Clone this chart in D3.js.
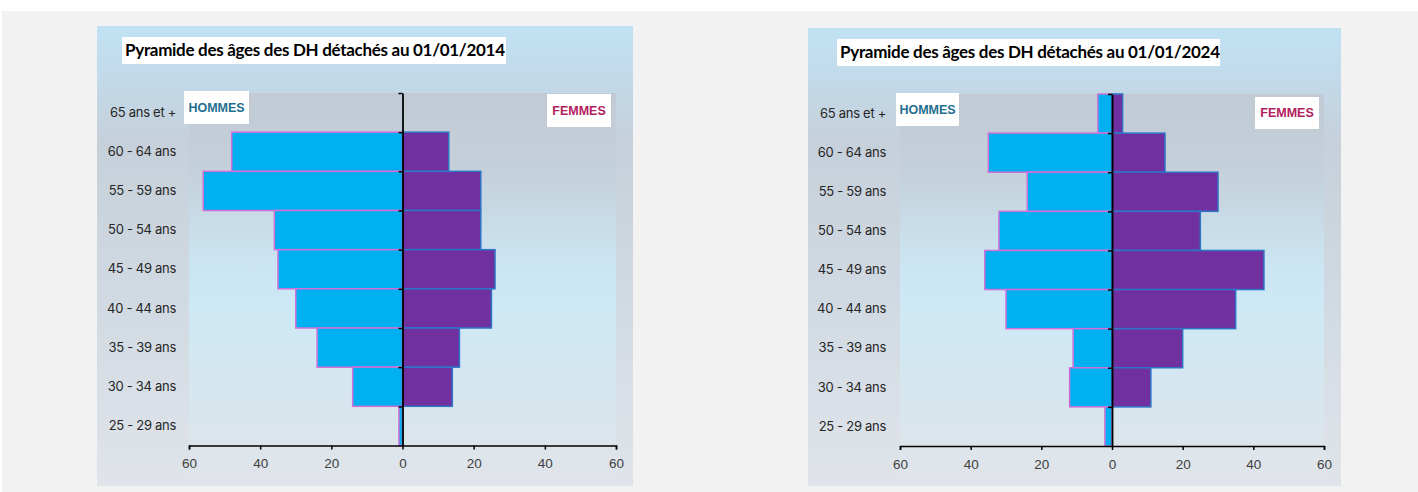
<!DOCTYPE html>
<html>
<head>
<meta charset="utf-8">
<script src="https://cdn.jsdelivr.net/npm/d3@7"></script>
<style>
  body { margin: 0; background: #ffffff; }
  svg { display: block; }
</style>
</head>
<body>
<div id="chart"></div>
<script>
// age groups, top to bottom
const ageGroups = ['65 ans et +', '60 - 64 ans', '55 - 59 ans', '50 - 54 ans', '45 - 49 ans', '40 - 44 ans', '35 - 39 ans', '30 - 34 ans', '25 - 29 ans']

// values
const hommes2014 = [0, 48, 56, 36, 35, 30, 24, 14, 1]
const femmes2014 = [0, 13, 22, 22, 26, 25, 16, 14, 0]
const hommes2024 = [4, 35, 24, 32, 36, 30, 11, 12, 2]
const femmes2024 = [3, 15, 30, 25, 43, 35, 20, 11, 0]

const xTicks = [-60, -40, -20, 0, 20, 40, 60]
const titles = ['Pyramide des âges des DH détachés au 01/01/2014', 'Pyramide des âges des DH détachés au 01/01/2024']

const W = 1418, H = 492

const svg = d3.select('#chart')
    .append('svg')
    .attr('width', W)
    .attr('height', H)

// gradients for the panel and plot area
const defs = svg.append('defs')

const panelGrad = defs.append('linearGradient')
    .attr('id', 'panelGrad')
    .attr('x1', 0).attr('y1', 0).attr('x2', 0).attr('y2', 1)
const panelStops = [[0, '#c1e2f4'], [0.12, '#c2d9e9'], [0.25, '#c6d0da'], [0.6, '#d1dae2'], [1, '#e0e4ea']]
panelStops.forEach(s => panelGrad.append('stop').attr('offset', s[0]).attr('stop-color', s[1]))

const plotGrad = defs.append('linearGradient')
    .attr('id', 'plotGrad')
    .attr('x1', 0).attr('y1', 0).attr('x2', 0).attr('y2', 1)
const plotStops = [[0, '#c1cad5'], [0.2, '#c4d0da'], [0.45, '#cbe5f2'], [0.55, '#cde9f5'], [0.8, '#d7e6ee'], [1, '#e0e4ea']]
plotStops.forEach(s => plotGrad.append('stop').attr('offset', s[0]).attr('stop-color', s[1]))

// page background
svg.append('rect')
    .attr('x', 2).attr('y', 11)
    .attr('width', W - 2).attr('height', H - 11)
    .attr('fill', '#f2f2f2')

const drawPyramid = (cfg) => {

    const g = svg.append('g')

    // outer panel
    g.append('rect')
        .attr('x', cfg.panel[0]).attr('y', cfg.panel[1])
        .attr('width', cfg.panel[2] - cfg.panel[0])
        .attr('height', cfg.panel[3] - cfg.panel[1])
        .attr('fill', 'url(#panelGrad)')

    // plot area
    g.append('rect')
        .attr('x', cfg.plot[0]).attr('y', cfg.plot[1])
        .attr('width', cfg.plot[2] - cfg.plot[0])
        .attr('height', cfg.plot[3] - cfg.plot[1])
        .attr('fill', 'url(#plotGrad)')

    const xScale = d3.scaleLinear()
        .domain([-60, 60])
        .range([cfg.plot[0], cfg.plot[2]])

    const yScale = d3.scaleBand()
        .domain(ageGroups)
        .range([cfg.plot[1], cfg.yBottom])
        .padding(0)

    // hommes bars (left side)
    g.selectAll('.bar-h')
        .data(cfg.hommes)
        .enter()
        .append('rect')
            .attr('class', 'bar-h')
            .attr('x', d => xScale(-d))
            .attr('y', (d, i) => yScale(ageGroups[i]))
            .attr('width', d => xScale(0) - xScale(-d))
            .attr('height', yScale.bandwidth())
            .attr('fill', '#00b0f0')
            .attr('stroke', d => d > 0 ? '#d070d8' : 'none')
            .attr('stroke-width', 1.5)

    // femmes bars (right side)
    g.selectAll('.bar-f')
        .data(cfg.femmes)
        .enter()
        .append('rect')
            .attr('class', 'bar-f')
            .attr('x', xScale(0))
            .attr('y', (d, i) => yScale(ageGroups[i]))
            .attr('width', d => xScale(d) - xScale(0))
            .attr('height', yScale.bandwidth())
            .attr('fill', '#7030a0')
            .attr('stroke', d => d > 0 ? '#2e75c6' : 'none')
            .attr('stroke-width', 1.5)

    // bottom axis
    const xAxis = g.append('g')
        .attr('transform', `translate(0,${cfg.yBottom})`)
        .call(d3.axisBottom(xScale)
            .tickValues(xTicks)
            .tickFormat(d => Math.abs(d))
            .tickSize(4)
            .tickSizeOuter(4)
            .tickPadding(9))
    xAxis.select('.domain').attr('stroke', '#000').attr('stroke-width', 1.5)
    xAxis.selectAll('.tick line').attr('stroke', '#000').attr('stroke-width', 1.5)
    xAxis.selectAll('text')
        .attr('fill', '#404040')
        .style('font-family', 'Liberation Sans, Arial, sans-serif')
        .style('font-size', '13.5px')

    // vertical zero axis with ticks at the band boundaries
    const boundary = d3.scaleLinear()
        .domain([0, ageGroups.length])
        .range([cfg.plot[1], cfg.yBottom])
    const zeroAxis = g.append('g')
        .attr('transform', `translate(${xScale(0)},0)`)
        .call(d3.axisLeft(boundary)
            .tickValues(d3.range(0, ageGroups.length))
            .tickFormat('')
            .tickSize(4)
            .tickSizeOuter(0))
    zeroAxis.select('.domain').attr('stroke', '#000').attr('stroke-width', 1.8)
    zeroAxis.selectAll('.tick line').attr('stroke', '#000').attr('stroke-width', 1.5)

    // category labels
    const yAxis = g.append('g')
        .attr('transform', `translate(${cfg.labelRight},0)`)
        .call(d3.axisLeft(yScale).tickSize(0).tickPadding(0))
    yAxis.select('.domain').remove()
    yAxis.selectAll('text')
        .attr('fill', '#262626')
        .style('font-family', 'Inter, sans-serif')
        .style('font-size', '13px')
        .style('letter-spacing', '-0.3px')

    // title box
    g.append('rect')
        .attr('x', cfg.titleBox[0]).attr('y', cfg.titleBox[1])
        .attr('width', cfg.titleBox[2] - cfg.titleBox[0])
        .attr('height', cfg.titleBox[3] - cfg.titleBox[1])
        .attr('fill', '#ffffff')
    g.append('text')
        .attr('x', cfg.titleBox[0] + 3)
        .attr('y', (cfg.titleBox[1] + cfg.titleBox[3]) / 2)
        .attr('dy', '0.35em')
        .attr('fill', '#000')
        .style('font-family', 'Lato, sans-serif')
        .style('font-weight', 'bold')
        .style('font-size', '17px')
        .style('letter-spacing', '-0.3px')
        .text(cfg.title)

    // legend boxes
    const legends = [
        {box: cfg.hommesBox, label: 'HOMMES', color: '#1f6f8f'},
        {box: cfg.femmesBox, label: 'FEMMES', color: '#b2215e'}
    ]
    legends.forEach(l => {
        g.append('rect')
            .attr('x', l.box[0]).attr('y', l.box[1])
            .attr('width', l.box[2] - l.box[0])
            .attr('height', l.box[3] - l.box[1])
            .attr('fill', '#ffffff')
        g.append('text')
            .attr('x', (l.box[0] + l.box[2]) / 2)
            .attr('y', (l.box[1] + l.box[3]) / 2)
            .attr('dy', '0.35em')
            .attr('text-anchor', 'middle')
            .attr('fill', l.color)
            .style('font-family', 'Liberation Sans, Arial, sans-serif')
            .style('font-weight', 'bold')
            .style('font-size', '12.5px')
            .text(l.label)
    })
}

drawPyramid({
    title: titles[0],
    hommes: hommes2014,
    femmes: femmes2014,
    panel: [97, 26, 633, 486],
    plot: [189, 93, 616, 477],
    yBottom: 445.5,
    titleBox: [122, 37, 506, 64],
    hommesBox: [184, 91, 249, 124],
    femmesBox: [547, 94, 611, 127],
    labelRight: 176
})

drawPyramid({
    title: titles[1],
    hommes: hommes2024,
    femmes: femmes2024,
    panel: [808, 28, 1341, 486],
    plot: [900, 94, 1324, 477],
    yBottom: 446,
    titleBox: [837, 39, 1220, 66],
    hommesBox: [896, 93, 959, 126],
    femmesBox: [1255, 97, 1319, 129],
    labelRight: 886
})
</script>
</body>
</html>
